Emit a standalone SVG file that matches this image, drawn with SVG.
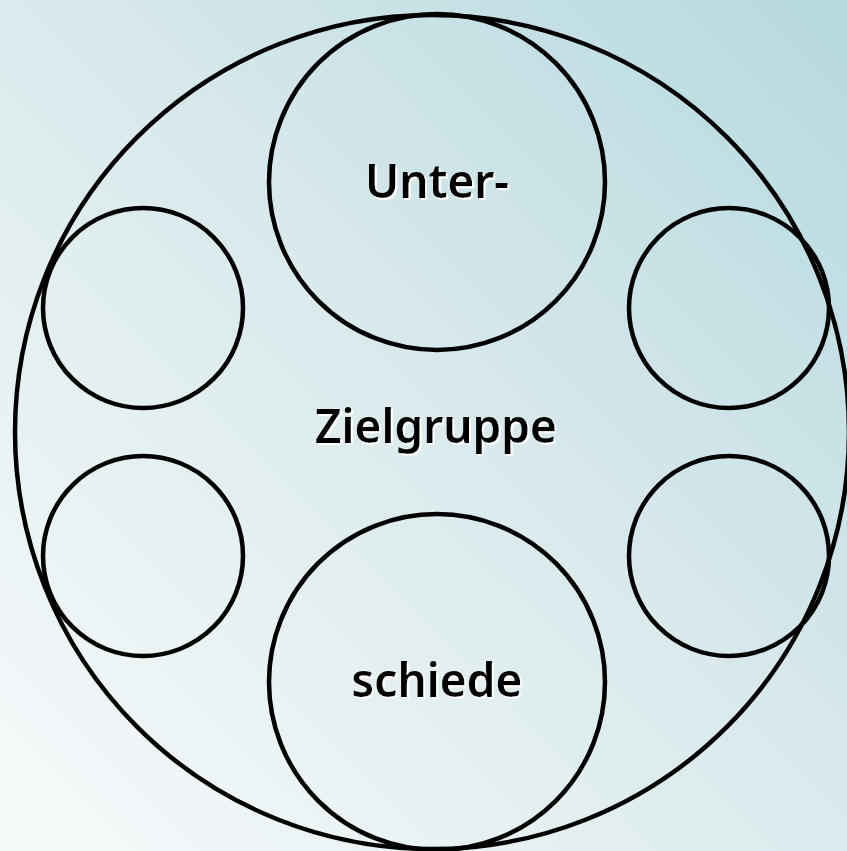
<svg xmlns="http://www.w3.org/2000/svg" width="847" height="851" viewBox="0 0 847 851">
<defs>
<linearGradient id="bg" x1="0" y1="851" x2="847" y2="0" gradientUnits="userSpaceOnUse">
<stop offset="0" stop-color="#f7fafb"/>
<stop offset="0.5" stop-color="#dbeaed"/>
<stop offset="1" stop-color="#b5d9de"/>
</linearGradient>
<filter id="sh" x="-5%" y="-5%" width="110%" height="120%">
<feOffset dx="2" dy="2" in="SourceAlpha" result="o"/>
<feFlood flood-color="#ffffff"/>
<feComposite in2="o" operator="in" result="w"/>
<feMerge><feMergeNode in="w"/><feMergeNode in="SourceGraphic"/></feMerge>
</filter>
</defs>
<style>
.c{fill:none;stroke:#000;stroke-width:4.5}
.t{font-family:"Noto Sans","DejaVu Sans",sans-serif;font-size:46px;font-weight:600;fill:#000;text-anchor:middle;filter:url(#sh)}
</style>
<rect width="847" height="851" fill="url(#bg)"/>
<g id="outer"><circle class="c" cx="432" cy="432" r="417"/></g>
<g id="top"><circle class="c" cx="437" cy="182" r="168"/><text class="t" x="437" y="198">Unter-</text></g>
<g id="bottom"><circle class="c" cx="437" cy="682" r="168"/><text class="t" x="437" y="697">schiede</text></g>
<g id="lt"><circle class="c" cx="143" cy="308" r="100"/></g>
<g id="lb"><circle class="c" cx="143" cy="556" r="100"/></g>
<g id="rt"><circle class="c" cx="729" cy="308" r="100"/></g>
<g id="rb"><circle class="c" cx="729" cy="556" r="100"/></g>
<g id="center"><text class="t" x="436" y="443">Zielgruppe</text></g>
<g id="connectors"/>
</svg>
